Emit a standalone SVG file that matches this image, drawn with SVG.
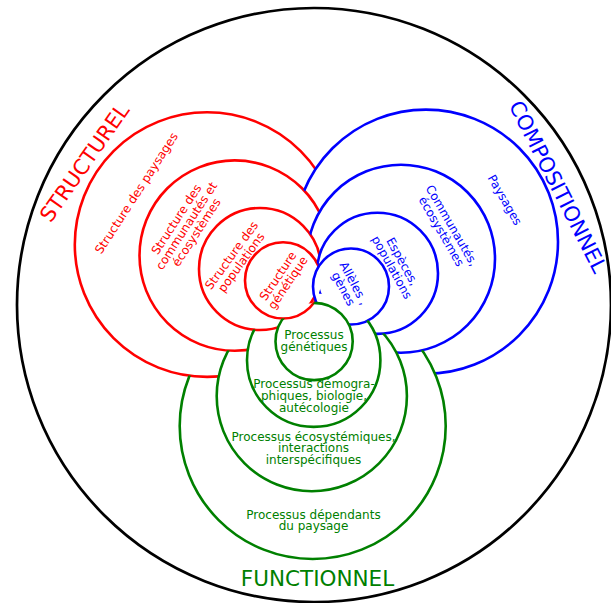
<svg xmlns="http://www.w3.org/2000/svg" xmlns:xlink="http://www.w3.org/1999/xlink" width="611" height="603" viewBox="0 0 611 603">
<style>
.r{fill:none;stroke:#ff0000;stroke-width:2.6}
.b{fill:none;stroke:#0000ff;stroke-width:2.6}
.g{fill:none;stroke:#008000;stroke-width:2.6}
.k{fill:none;stroke:#000;stroke-width:2.7}
text{font-family:"DejaVu Sans","Verdana",sans-serif;text-anchor:middle}
.tr{fill:#ff0000;font-size:12px}
.tb{fill:#0000ff;font-size:12px}
.tg{fill:#008000;font-size:12px}
.big{font-size:21px}
</style>
<defs>
<circle id="R1" cx="207.1" cy="244.6" r="132.3"/>
<circle id="R2" cx="234.7" cy="255.6" r="95.2"/>
<circle id="R3" cx="260" cy="269" r="61"/>
<circle id="R4" cx="283.1" cy="280.4" r="38.1"/>
<circle id="B1" cx="425.9" cy="241.7" r="132.1"/>
<circle id="B2" cx="401" cy="258.7" r="94"/>
<circle id="B3" cx="377.4" cy="273.3" r="60.6"/>
<circle id="B4" cx="351" cy="286.5" r="38"/>
<circle id="G1" cx="312.7" cy="426" r="133"/>
<circle id="G2" cx="311.8" cy="396.1" r="95.1"/>
<circle id="G3" cx="313.7" cy="360.2" r="66.7"/>
<circle id="G4" cx="314.1" cy="341.5" r="38.6"/>
<mask id="mR1" maskUnits="userSpaceOnUse" x="0" y="0" width="611" height="603"><rect width="611" height="603" fill="#fff"/><g fill="#000"><use xlink:href="#B1"/><use xlink:href="#B2"/><use xlink:href="#B3"/><use xlink:href="#B4"/><use xlink:href="#G2"/><use xlink:href="#G3"/><use xlink:href="#G4"/></g></mask>
<mask id="mR2" maskUnits="userSpaceOnUse" x="0" y="0" width="611" height="603"><rect width="611" height="603" fill="#fff"/><g fill="#000"><use xlink:href="#B2"/><use xlink:href="#B3"/><use xlink:href="#B4"/><use xlink:href="#G3"/><use xlink:href="#G4"/></g></mask>
<mask id="mR3" maskUnits="userSpaceOnUse" x="0" y="0" width="611" height="603"><rect width="611" height="603" fill="#fff"/><g fill="#000"><use xlink:href="#B3"/><use xlink:href="#B4"/><use xlink:href="#G4"/></g></mask>
<mask id="mR4" maskUnits="userSpaceOnUse" x="0" y="0" width="611" height="603"><rect width="611" height="603" fill="#fff"/><g fill="#000"><use xlink:href="#B4"/></g></mask>
<mask id="mB1" maskUnits="userSpaceOnUse" x="0" y="0" width="611" height="603"><rect width="611" height="603" fill="#fff"/><g fill="#000"><use xlink:href="#G1"/><use xlink:href="#G2"/><use xlink:href="#G3"/><use xlink:href="#G4"/><use xlink:href="#R2"/><use xlink:href="#R3"/><use xlink:href="#R4"/></g></mask>
<mask id="mB2" maskUnits="userSpaceOnUse" x="0" y="0" width="611" height="603"><rect width="611" height="603" fill="#fff"/><g fill="#000"><use xlink:href="#G2"/><use xlink:href="#G3"/><use xlink:href="#G4"/><use xlink:href="#R3"/><use xlink:href="#R4"/></g></mask>
<mask id="mB3" maskUnits="userSpaceOnUse" x="0" y="0" width="611" height="603"><rect width="611" height="603" fill="#fff"/><g fill="#000"><use xlink:href="#G3"/><use xlink:href="#G4"/><use xlink:href="#R4"/></g></mask>
<mask id="mB4" maskUnits="userSpaceOnUse" x="0" y="0" width="611" height="603"><rect width="611" height="603" fill="#fff"/><g fill="#000"><use xlink:href="#G4"/></g></mask>
<mask id="mG1" maskUnits="userSpaceOnUse" x="0" y="0" width="611" height="603"><rect width="611" height="603" fill="#fff"/><g fill="#000"><use xlink:href="#R1"/><use xlink:href="#R2"/><use xlink:href="#R3"/><use xlink:href="#R4"/><use xlink:href="#B2"/><use xlink:href="#B3"/><use xlink:href="#B4"/></g></mask>
<mask id="mG2" maskUnits="userSpaceOnUse" x="0" y="0" width="611" height="603"><rect width="611" height="603" fill="#fff"/><g fill="#000"><use xlink:href="#R2"/><use xlink:href="#R3"/><use xlink:href="#R4"/><use xlink:href="#B3"/><use xlink:href="#B4"/></g></mask>
<mask id="mG3" maskUnits="userSpaceOnUse" x="0" y="0" width="611" height="603"><rect width="611" height="603" fill="#fff"/><g fill="#000"><use xlink:href="#R3"/><use xlink:href="#R4"/><use xlink:href="#B4"/></g></mask>
<mask id="mG4" maskUnits="userSpaceOnUse" x="0" y="0" width="611" height="603"><rect width="611" height="603" fill="#fff"/><g fill="#000"><use xlink:href="#R4"/></g></mask>
</defs>
<rect width="611" height="603" fill="#fff"/>
<g id="outer"><circle class="k" cx="314" cy="305" r="297"/></g>

<g id="structurel"><text class="big" fill="#ff0000" transform="translate(84.2,162.5) rotate(-55)" y="7.6">STRUCTUREL</text></g>
<g id="compositionnel"><text class="big" fill="#0000ff" transform="translate(558.3,186.7) rotate(63)" y="7.6">COMPOSITIONNEL</text></g>
<g id="functionnel"><text class="big" fill="#008000" x="317.5" y="586" style="font-size:21.5px">FUNCTIONNEL</text></g>

<g id="red-1"><use xlink:href="#R1" class="r" mask="url(#mR1)"/>
<text class="tr" transform="translate(136.5,193.3) rotate(-57)" y="4">Structure des paysages</text></g>
<g id="red-2"><use xlink:href="#R2" class="r" mask="url(#mR2)"/>
<text class="tr" transform="translate(186.5,226) rotate(-57)"><tspan x="0" y="-8">Structure des</tspan><tspan x="0" y="4">communautés et</tspan><tspan x="0" y="16">écosystèmes</tspan></text></g>
<g id="red-3"><use xlink:href="#R3" class="r" mask="url(#mR3)"/>
<text class="tr" transform="translate(236.5,259) rotate(-54)"><tspan x="0" y="-2">Structure des</tspan><tspan x="0" y="10">populations</tspan></text></g>
<g id="red-4"><use xlink:href="#R4" class="r" mask="url(#mR4)"/>
<text class="tr" transform="translate(283,279.5) rotate(-56)"><tspan x="0" y="-2">Structure</tspan><tspan x="0" y="10">génétique</tspan></text></g>

<g id="blue-1"><use xlink:href="#B1" class="b" mask="url(#mB1)"/>
<text class="tb" transform="translate(504.7,200) rotate(60)" y="4">Paysages</text></g>
<g id="blue-2"><use xlink:href="#B2" class="b" mask="url(#mB2)"/>
<text class="tb" transform="translate(446.5,228.5) rotate(60)"><tspan x="0" y="-2">Communautés,</tspan><tspan x="0" y="10">écosystèmes</tspan></text></g>
<g id="blue-3"><use xlink:href="#B3" class="b" mask="url(#mB3)"/>
<text class="tb" transform="translate(397,264.5) rotate(61)"><tspan x="0" y="-2">Espèces,</tspan><tspan x="0" y="10">populations</tspan></text></g>
<g id="blue-4"><use xlink:href="#B4" class="b" mask="url(#mB4)"/>
<text class="tb" transform="translate(348.5,286) rotate(62)"><tspan x="0" y="-2">Allèles ,</tspan><tspan x="0" y="10">gènes</tspan></text></g>

<g id="green-1"><use xlink:href="#G1" class="g" mask="url(#mG1)"/>
<text class="tg"><tspan x="313.5" y="518.5">Processus dépendants</tspan><tspan x="313.5" y="530.3">du paysage</tspan></text></g>
<g id="green-2"><use xlink:href="#G2" class="g" mask="url(#mG2)"/>
<text class="tg"><tspan x="313.5" y="440.7">Processus écosystémiques,</tspan><tspan x="313.5" y="452.4">interactions</tspan><tspan x="313.5" y="464.1">interspécifiques</tspan></text></g>
<g id="green-3"><use xlink:href="#G3" class="g" mask="url(#mG3)"/>
<text class="tg"><tspan x="314" y="388.3">Processus démogra-</tspan><tspan x="314" y="400">phiques, biologie,</tspan><tspan x="314" y="411.7">autécologie</tspan></text></g>
<g id="green-4"><use xlink:href="#G4" class="g" mask="url(#mG4)"/>
<text class="tg"><tspan x="314" y="339">Processus</tspan><tspan x="314" y="350.7">génétiques</tspan></text></g>
</svg>
